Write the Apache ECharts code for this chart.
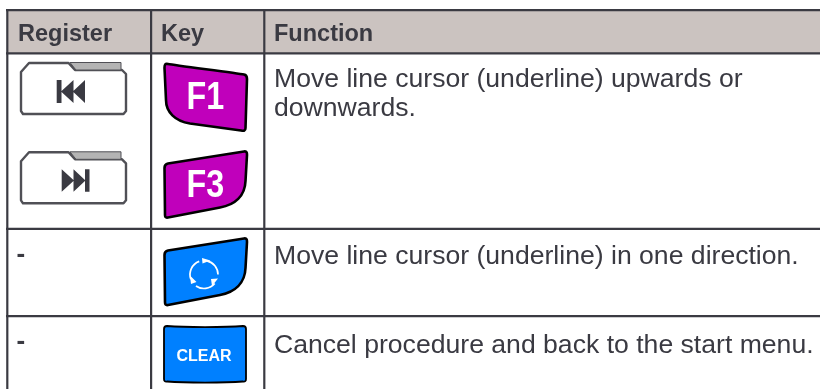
<!DOCTYPE html>
<html><head><meta charset="utf-8">
<style>html,body{margin:0;padding:0;background:#fff}#c{width:820px;height:389px}</style>
<script src="https://cdn.jsdelivr.net/npm/echarts@6/dist/echarts.min.js"></script>
</head><body><div id="c"></div>
<script>
var headers = ['Register', 'Key', 'Function'];
var registerDash = ['-', '-'];
var functionRow1 = ['Move line cursor (underline) upwards or', 'downwards.'];
var functionRow2 = ['Move line cursor (underline) in one direction.'];
var functionRow3 = ['Cancel procedure and back to the start menu.'];
var keyLabels = ['F1', 'F3', 'CLEAR'];

var INK = '#3a3a42', HEAD = '#cbc3c0', MAG = '#c000bb', BLUE = '#0080ff', FF = '"Liberation Sans", Arial, sans-serif';
var g = [];
var pathCount = 0;
function rect(x, y, w, h, fill) { g.push({ type: 'rect', shape: { x: x, y: y, width: w, height: h }, style: { fill: fill }, silent: true }); }
function text(x, y, s, size, bold, color, extra) {
  g.push(Object.assign({ type: 'text', x: x, y: y, silent: true, style: { text: s, font: (bold ? 'bold ' : '') + size + 'px ' + FF, fill: color || INK, textVerticalAlign: 'middle', textAlign: 'left' } }, extra || {}));
}
function rawPath(d, fill, stroke, lw) {
  var name = 'keyShape' + (pathCount++);
  echarts.graphic.registerShape(name, echarts.graphic.extendPath(d, {}));
  g.push({ type: name, silent: true, style: { fill: fill, stroke: stroke || null, lineWidth: lw || 0, lineJoin: 'round' } });
}
// header band and rules
rect(7, 10, 813, 43, HEAD);
rect(6, 9, 814, 2.2, INK);
rect(6, 52.2, 814, 2.2, INK);
rect(6, 227.7, 814, 2.2, INK);
rect(6, 315, 814, 2.2, INK);
rect(6.2, 9, 2.2, 380, INK);
rect(150, 9, 2.2, 380, INK);
rect(263.2, 9, 2.2, 380, INK);
// header text
text(18, 34.5, headers[0], 23.5, true);
text(161, 34.5, headers[1], 23.5, true);
text(274, 34.5, headers[2], 23.5, true);
// body
text(274, 80, functionRow1[0], 26.6, false);
text(274, 109, functionRow1[1], 26.6, false);
text(274, 257, functionRow2[0], 26.6, false);
text(274, 346, functionRow3[0], 26.6, false);
text(16.5, 255, registerDash[0], 26, true);
text(16.5, 342, registerDash[1], 26, true);
// soft-key tabs
function tab(dy) {
  var y = function (v) { return v + dy; };
  rawPath('M21 ' + y(72) + 'L29 ' + y(63) + 'L68.5 ' + y(63) + 'L75 ' + y(70) + 'L122 ' + y(70) + 'L126 ' + y(74) + 'L126 ' + y(111) + 'L123.5 ' + y(114) + 'L23 ' + y(114) + 'L21 ' + y(111) + 'Z', '#fff', '#505056', 2.4);
  rawPath('M70 ' + y(62.5) + 'L121 ' + y(62.5) + 'L121 ' + y(70) + 'L76 ' + y(70) + 'Z', '#b4b4b4', '#505056', 1);
}
tab(0); tab(89.3);
rawPath('M56.7 80H61.5V103H56.7Z M73.5 80V103L61 91.5Z M85 80V103L72.8 91.5Z', INK);
rawPath('M89.5 169.3H85V191.7H89.5Z M73.5 169.3V191.7L85.5 180.5Z M61.7 169.3V191.7L74 180.5Z', INK);
// keys
rawPath('M168 64 C176 65.5 236 73 244 74.5 C247 75 247 77 247 79 L245.5 128 C245.5 131 244 131 241 130.5 L190 123.5 C175 121 166 112 166 100 L164.5 68 C164.5 64.5 165 63.5 168 64Z', MAG, '#000', 2.6);
rawPath('M244 151.5 C247 151 247 153 247 155 L245.5 181 C245 196 235 205 220 207.5 L168 217.5 C165.5 218 165 217 165 215 L164.5 168 C164.5 165 165.5 164 168 163.5 Z', MAG, '#000', 2.6);
rawPath('M244 238.5 C247 238 247 240 247 242 L245.5 268 C245 283 235 292 220 295 L168 305 C165.5 305.5 165 304 165 302 L164.5 255 C164.5 252 165.5 251 168 250.5 Z', BLUE, '#000', 2.6);
rawPath('M167 326 C185 327.5 225 327.5 243 326 C245.5 326 246 327 246 329 L246 379 C246 381 245 382 243 381.5 C225 383 185 383 167 381.5 C165 382 164 381 164 379 L164 329 C164 327 165 326 167 326Z', BLUE, '#000', 1.8);
// key labels
text(186.5, 99, keyLabels[0], 38, true, '#fff', { scaleX: 0.85 });
text(186.5, 187, keyLabels[1], 38, true, '#fff', { scaleX: 0.85 });
text(176.5, 357, keyLabels[2], 16, true, '#fff');
// rotate symbol
[[-78, 0], [40, 125], [160, 250]].forEach(function (a) {
  g.push({ type: 'arc', silent: true, shape: { cx: 204, cy: 274.5, r: 14, startAngle: a[0] * Math.PI / 180, endAngle: a[1] * Math.PI / 180 }, style: { stroke: '#fff', lineWidth: 1.7, fill: 'none' } });
});
rawPath('M202 258 L210.5 260.5 L202.5 263.5Z M212 286 L218 278.5 L211 279Z M190 275.5 L191 284 L196.5 282Z', '#fff');

var chart = echarts.init(document.getElementById('c'), null, { renderer: 'canvas' });
chart.setOption({ animation: false, backgroundColor: '#fff', graphic: { elements: g } });
</script></body></html>
